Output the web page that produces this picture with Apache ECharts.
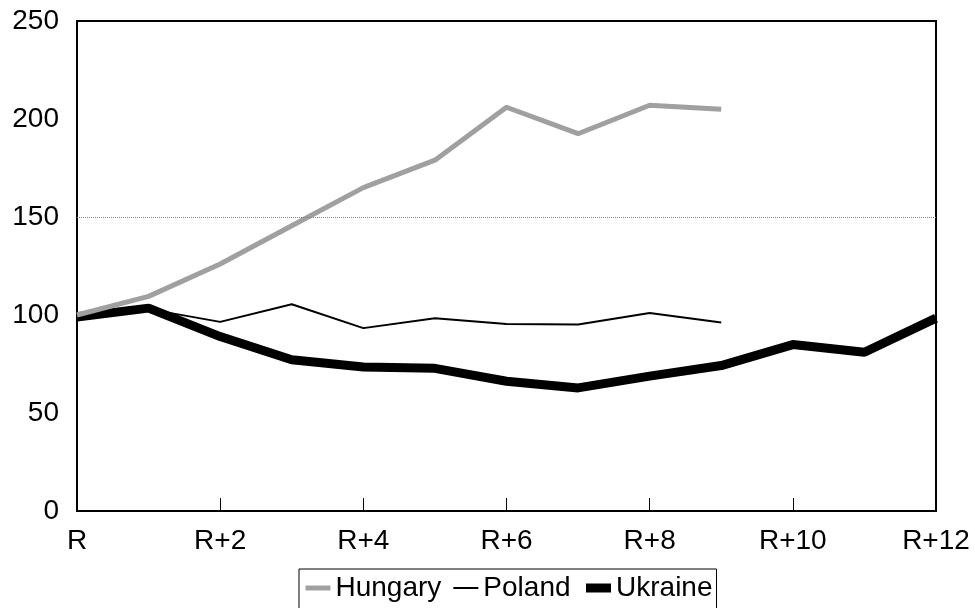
<!DOCTYPE html>
<html>
<head>
<meta charset="utf-8">
<script src="https://cdn.jsdelivr.net/npm/echarts@6/dist/echarts.min.js"></script>
<style>
html,body{margin:0;padding:0;background:#fff;}
#chart{width:975px;height:608px;}
</style>
</head>
<body>
<div id="chart"></div>
<script>
var categories = ['R','R+1','R+2','R+3','R+4','R+5','R+6','R+7','R+8','R+9','R+10','R+11','R+12'];
var hungary = [100, 109.5, 126, 145.5, 165, 179, 206, 192.5, 207, 205];
var poland = [101, 103, 96.5, 105.5, 93.3, 98.4, 95.4, 95.2, 101, 96.2];
var ukraine = [99, 103.5, 89, 77.2, 73.5, 72.8, 66.2, 62.8, 68.8, 74.2, 84.9, 81, 98.4];
var referenceLine = 150;

var font = '"Liberation Sans", Arial, sans-serif';
var chart = echarts.init(document.getElementById('chart'));
chart.setOption({
  animation: false,
  backgroundColor: '#fff',
  grid: {
    left: 77, right: 39, top: 21, bottom: 97,
    show: true, borderColor: '#000', borderWidth: 2, backgroundColor: 'transparent'
  },
  legend: {
    left: 299, top: 569,
    padding: [5, 4, 30, 4],
    borderColor: '#000', borderWidth: 1,
    itemWidth: 25, itemHeight: 2, itemGap: 11,
    textStyle: { fontFamily: font, fontSize: 28, color: '#000' },
    lineStyle: { width: 'inherit' },
    itemStyle: { opacity: 0 },
    data: ['Hungary', 'Poland', 'Ukraine']
  },
  xAxis: {
    type: 'category',
    data: categories,
    boundaryGap: false,
    axisLine: { lineStyle: { color: '#000', width: 2 } },
    axisTick: { show: true, inside: true, length: 13, interval: 1, lineStyle: { color: '#000', width: 1 } },
    axisLabel: { interval: 1, margin: 16, fontFamily: font, fontSize: 28, color: '#000' },
    splitLine: { show: false }
  },
  yAxis: {
    type: 'value',
    min: 0, max: 250, interval: 50,
    axisLine: { show: true, lineStyle: { color: '#000', width: 2 } },
    axisTick: { show: false },
    axisLabel: { margin: 18, fontFamily: font, fontSize: 28, color: '#000' },
    splitLine: { show: false }
  },
  series: [
    {
      name: 'Hungary', type: 'line', data: hungary, symbol: 'none', z: 4,
      lineStyle: { color: '#a0a0a0', width: 5 }, itemStyle: { color: '#a0a0a0' },
      markLine: {
        silent: true, symbol: 'none', label: { show: false },
        lineStyle: { color: '#808080', type: 'dotted', width: 1 },
        data: [{ yAxis: referenceLine }]
      }
    },
    {
      name: 'Poland', type: 'line', data: poland, symbol: 'none', z: 2,
      lineStyle: { color: '#000', width: 2 }, itemStyle: { color: '#000' }
    },
    {
      name: 'Ukraine', type: 'line', data: ukraine, symbol: 'none', z: 3,
      lineStyle: { color: '#000', width: 9 }, itemStyle: { color: '#000' }
    }
  ]
});
</script>
</body>
</html>
